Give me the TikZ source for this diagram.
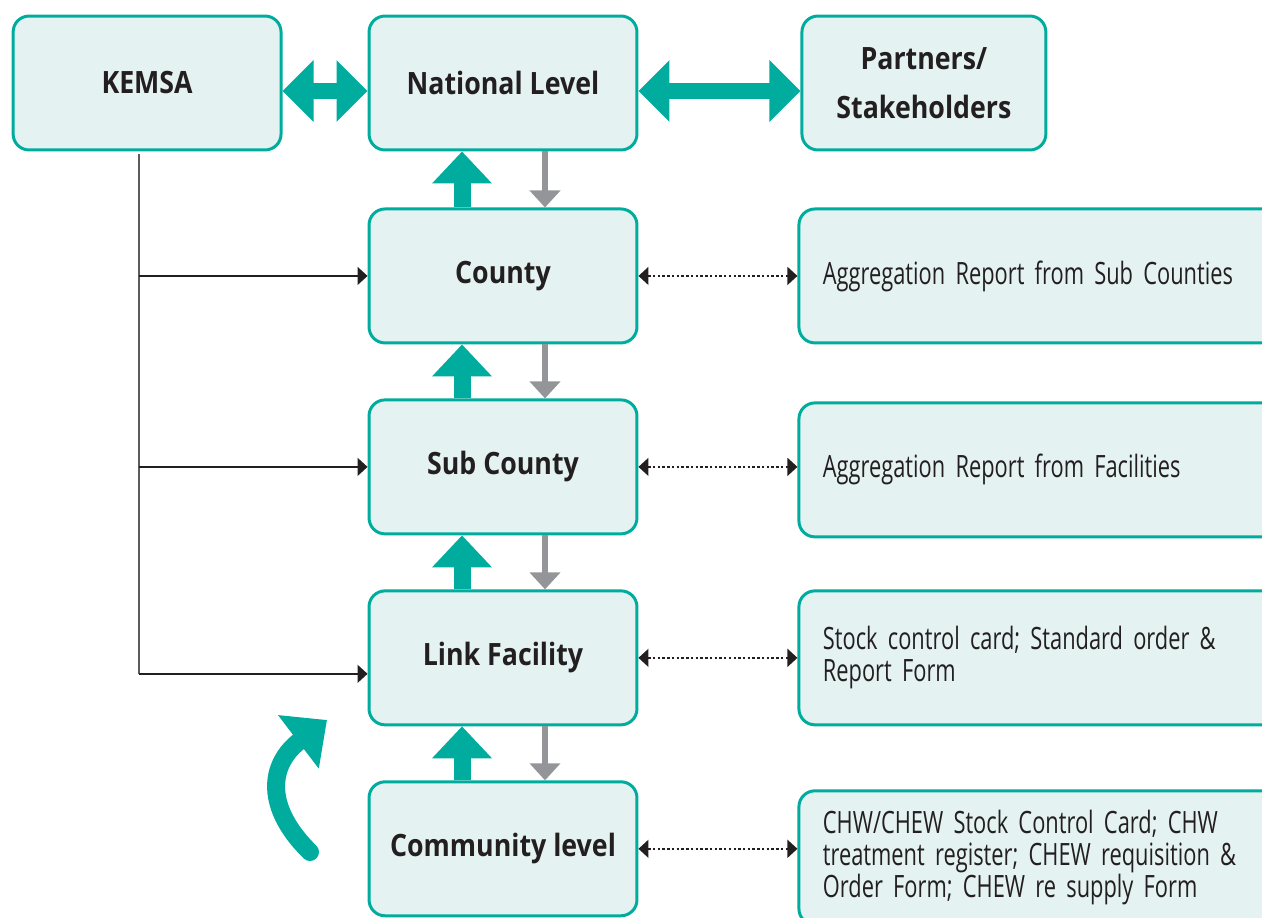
\documentclass[tikz,border=0pt]{standalone}
\usepackage{fontspec}
\setmainfont{Open Sans}[FakeStretch=0.71, WordSpace=0.8, BoldFeatures={FakeStretch=0.87, WordSpace=1}]
\usetikzlibrary{arrows.meta}
\usetikzlibrary{positioning}
\definecolor{kemsateal}{RGB}{0,172,158}
\definecolor{kemsafill}{RGB}{228,242,241}
\definecolor{inkdark}{RGB}{35,31,32}
\definecolor{flowgray}{RGB}{147,149,152}

\begin{document}
\begin{tikzpicture}[x=0.02cm, y=-0.02cm, node distance=1.08cm and 1.70cm,
    level/.style={rectangle, rounded corners=0.32cm, draw=kemsateal, fill=kemsafill,
      line width=1.7pt, minimum width=5.36cm, minimum height=2.68cm, text=inkdark,
      font=\bfseries\fontsize{17.5pt}{21pt}\selectfont, align=center},
    report/.style={level, font=\fontsize{17.5pt}{18.2pt}\selectfont, align=left,
      text width=8.8cm, inner xsep=0.48cm},
    bigup/.style={-{Triangle[length=0.64cm, width=1.16cm]}, kemsateal, line width=0.34cm},
    supply/.style={-{Triangle[length=0.34cm, width=0.6cm]}, flowgray, line width=0.11cm},
    exchange/.style={{Triangle[length=0.62cm, width=1.2cm]}-{Triangle[length=0.62cm, width=1.2cm]},
      kemsateal, line width=0.32cm},
    docs/.style={{Triangle[length=0.2cm, width=0.36cm]}-{Triangle[length=0.2cm, width=0.36cm]},
      inkdark, dash pattern=on 1.4pt off 1.3pt, line width=0.8pt},
    feed/.style={-{Triangle[length=0.2cm, width=0.36cm]}, inkdark, line width=0.9pt}]

    \useasboundingbox (0,0) rectangle (1262,917);
    \clip (0,0) rectangle (1262,917);

    % supply chain levels
    \node[level] (national) at (503,83) {National Level};
    \node[level] (kemsa) [left=of national] {KEMSA};
    \node[level, minimum width=4.88cm, font=\bfseries\fontsize{17.5pt}{28pt}\selectfont]
      (partners) [right=3.24cm of national] {Partners/\\Stakeholders};
    \node[level] (county) [below=of national, yshift=-0.04cm] {County};
    \node[level] (subcounty) [below=of county] {Sub County};
    \node[level] (link) [below=of subcounty] {Link Facility};
    \node[level] (community) [below=of link] {Community level};

    % reporting tools
    \node[report] (aggsub) [right=3.18cm of county] {Aggregation Report from Sub Counties};
    \node[report] (aggfac) [right=3.18cm of subcounty, yshift=-0.06cm] {Aggregation Report from Facilities};
    \node[report] (stockcard) [right=3.18cm of link] {Stock control card; Standard order \&\\Report Form};
    \node[report] (chwforms) [right=3.18cm of community, yshift=-0.18cm]
      {CHW/CHEW Stock Control Card; CHW\\treatment register; CHEW requisition \&\\Order Form; CHEW re supply Form};

    \draw[exchange] ([yshift=-0.16cm]kemsa.east) -- ([yshift=-0.16cm]national.west);
    \draw[exchange] ([yshift=-0.16cm]national.east) -- ([yshift=-0.16cm]partners.west);

    \foreach \src/\dst in {county/national, subcounty/county, link/subcounty, community/link} {
      \draw[bigup] ([xshift=-0.82cm]\src.north) -- ([xshift=-0.82cm]\dst.south);
      \draw[supply] ([xshift=0.84cm]\dst.south) -- ([xshift=0.84cm]\src.north);
    }

    \foreach \lvl/\doc in {county/aggsub, subcounty/aggfac, link/stockcard, community/chwforms}
      \draw[docs] (\lvl.east) -- (\lvl.east -| \doc.west);

    % KEMSA delivers directly
    \coordinate (trunk) at ([xshift=-0.16cm, yshift=-0.06cm]kemsa.south);
    \coordinate (linkin) at ([yshift=-0.32cm]link.west);
    \draw[flowgray!50!inkdark, line width=0.9pt] (trunk) -- (trunk |- linkin);
    \draw[feed] (trunk |- linkin) -- (linkin);
    \foreach \lvl in {county, subcounty}
      \draw[feed] (trunk |- \lvl.west) -- (\lvl.west);

    % feedback loop
    \coordinate (loopstart) at (310,852);
    \coordinate (looptip) at (327,720);
    \draw[kemsateal, line width=0.36cm, line cap=round, -{Triangle[length=0.72cm, width=1.3cm]}]
      (loopstart) .. controls (265,808) and (268,765) .. (looptip);
\end{tikzpicture}
\end{document}
